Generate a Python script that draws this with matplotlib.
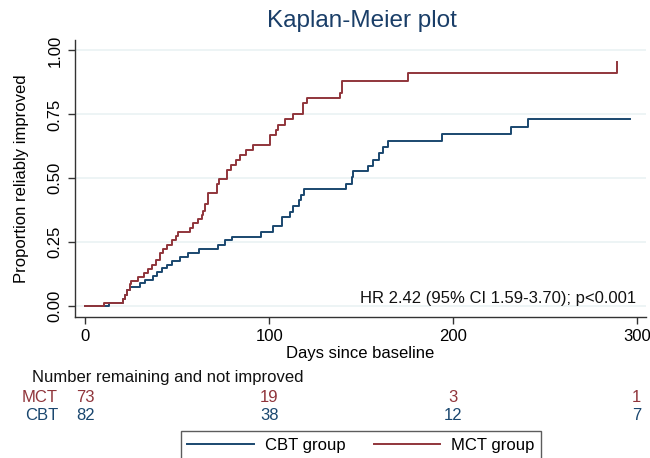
import matplotlib
matplotlib.use("Agg")
import matplotlib.pyplot as plt
import matplotlib.transforms as mtransforms
from matplotlib.lines import Line2D

plt.rcParams['font.family'] = ['Liberation Sans', 'DejaVu Sans']

# ---- data ----
mct_days = [0, 10, 20.5, 21.5, 22.5, 24, 25, 28.6, 31.6, 34, 36.2, 38.5, 40.3, 42.1, 44.3,
            47, 49.4, 50.1, 57, 58.4, 61.5, 63.3, 64.2, 65.1, 66.9, 71.8, 72.9, 76.9, 79,
            81.7, 84.1, 87.2, 91, 100.2, 100.6, 103.5, 104.9, 108.5, 113, 118.5, 120.5,
            138.5, 139.6, 175.6, 289.3]
mct_prop = [0, .014, .03, .045, .065, .088, .10, .115, .13, .145, .16, .18, .21, .225, .24,
            .26, .275, .29, .305, .325, .34, .357, .373, .40, .442, .479, .497, .533, .553,
            .572, .590, .611, .631, .65, .669, .69, .709, .731, .752, .796, .813,
            .833, .881, .911, .954]

cbt_days = [0, 13, 20.6, 21.5, 22.5, 24, 29.7, 32.4, 36.9, 38.7, 41.5, 44.2, 46.9, 51.4,
            55.9, 62, 72, 76, 80, 95.5, 101.8, 106.7, 111.2, 112.7, 116.3, 117.5, 119,
            141.7, 144.8, 145.7, 153.9, 156.6, 159.9, 161.7, 164.8, 193.8, 231.5, 240.6, 296.3]
cbt_prop = [0, .012, .03, .044, .064, .077, .09, .103, .118, .135, .148, .161, .175, .194,
            .21, .223, .24, .257, .272, .292, .312, .348, .37, .392, .416, .435, .458,
            .478, .504, .529, .549, .572, .598, .622, .646, .673, .702, .731, .731]

xticks = [0, 100, 200, 300]
yticks = [0.0, 0.25, 0.5, 0.75, 1.0]
ytick_labels = ["0.00", "0.25", "0.50", "0.75", "1.00"]
risk_groups = ["MCT", "CBT"]
risk_mct = [73, 19, 3, 1]
risk_cbt = [82, 38, 12, 7]
hr_text = "HR 2.42 (95% CI 1.59-3.70); p<0.001"

RED = '#90353b'
BLUE = '#1a476f'
FS = 12

W, H = 650, 458
fig = plt.figure(figsize=(W / 100, H / 100), dpi=100)
fig.patch.set_facecolor('white')

l, r, t, b = 75, 646, 40, 316.7
ax = fig.add_axes([l / W, 1 - b / H, (r - l) / W, (b - t) / H])
ax.set_xlim(-5.7, 305)
ax.set_ylim(-0.041, 1.041)

for y in yticks:
    ax.axhline(y, color='#eaf2f3', lw=1.2, zorder=0)

ax.step(cbt_days, cbt_prop, where='post', color=BLUE, lw=1.4, zorder=3)
ax.step(mct_days, mct_prop, where='post', color=RED, lw=1.4, zorder=3)

for s in ['top', 'right']:
    ax.spines[s].set_visible(False)
for s in ['left', 'bottom']:
    ax.spines[s].set_color('#333333')
    ax.spines[s].set_linewidth(1.0)

ax.set_xticks(xticks)
ax.set_xticklabels([str(v) for v in xticks], fontsize=FS)
ax.set_yticks(yticks)
ax.set_yticklabels(ytick_labels, fontsize=FS, rotation=90, va='center')
ax.tick_params(axis='both', length=5, width=1.0, color='#333333', pad=4)
ax.set_xlabel("Days since baseline", fontsize=FS, labelpad=1)
ax.set_ylabel("Proportion reliably improved", fontsize=FS, labelpad=13)

ax.text(299.5, 0.03, hr_text, fontsize=FS, ha='right', va='center', color='#111111')

fig.text(362 / W, 1 - 21 / H, "Kaplan-Meier plot", fontsize=17.5,
         color='#1a3e68', ha='center', va='center')

# risk table
tr = mtransforms.blended_transform_factory(ax.transData, fig.transFigure)
fig.text(31.7 / W, 1 - 377.3 / H, "Number remaining and not improved", fontsize=FS,
         ha='left', va='center', color='#111111')
for name, vals, yy, col in [(risk_groups[0], risk_mct, 397, RED), (risk_groups[1], risk_cbt, 415.7, BLUE)]:
    fig.text(58 / W, 1 - yy / H, name, fontsize=FS, ha='right', va='center', color=col)
    for xv, v in zip(xticks, vals):
        fig.text(xv, 1 - yy / H, str(v), fontsize=FS, ha='center', va='center', color=col,
                 transform=tr)

# legend
handles = [Line2D([], [], color=BLUE, lw=1.4), Line2D([], [], color=RED, lw=1.4)]
leg = fig.legend(handles, ["CBT group", "MCT group"], loc='upper left',
                 bbox_to_anchor=(180.7 / W, 1 - 431.3 / H), ncol=2, fontsize=FS,
                 frameon=True, fancybox=False, edgecolor='#333333', borderaxespad=0,
                 handlelength=4.0, handletextpad=0.65, columnspacing=1.7, borderpad=0.4)
leg.get_frame().set_linewidth(1.0)

fig.savefig("out.png", dpi=100, facecolor='white')
